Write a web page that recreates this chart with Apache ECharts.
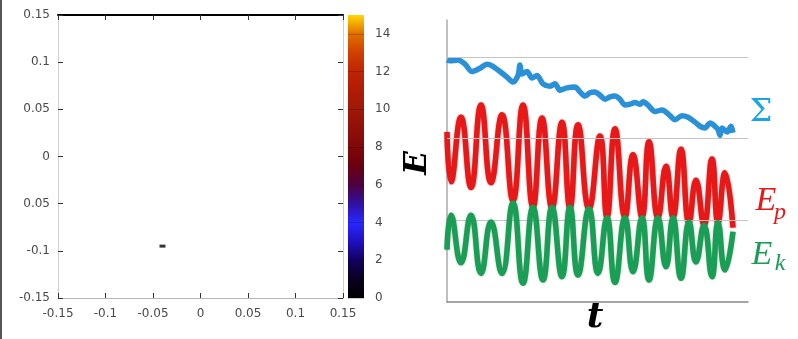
<!DOCTYPE html>
<html><head><meta charset="utf-8">
<script src="https://cdn.jsdelivr.net/npm/echarts/dist/echarts.min.js"></script>
<style>html,body{margin:0;padding:0;background:#fff}#c{width:798px;height:339px}</style>
</head><body><div id="c"></div>
<script>
// ---- left panel data ----
const xTicks = [-0.15, -0.1, -0.05, 0, 0.05, 0.1, 0.15];
const xTickLabels = ['-0.15', '-0.1', '-0.05', '0', '0.05', '0.1', '0.15'];
const yTicks = [-0.15, -0.1, -0.05, 0, 0.05, 0.1, 0.15];
const yTickLabels = ['-0.15', '-0.1', '0.05', '0', '0.05', '0.1', '0.15'];
const pointX = [-0.04];
const pointY = [-0.095];
const pointE = [0];
const colorbarMax = [15];
const colorbarTicks = [0, 2, 4, 6, 8, 10, 12, 14];
const paletteColors = ['#000000','#0a0020','#140060','#2010c0','#2828ff','#3010a0','#500040','#6a0010','#800808','#901008','#a01808','#b01c06','#c02404','#d04000','#e07000','#ffd800'];

// ---- right panel data ----
const sigmaT = [0,3,11,18,25,33,40,45,53,61,66,71,73,75,80,85,90,96,103,108,113,120,128,133,138,143,148,153,158,163,168,173,178,183,188,193,196,201,208,215,223,228,235,241,248,253,258,263,268,271,273,275,280,284,286];
const sigmaE = [2.96,2.95,2.96,2.91,2.82,2.86,2.91,2.89,2.82,2.74,2.69,2.77,2.90,2.79,2.82,2.74,2.77,2.67,2.64,2.67,2.59,2.62,2.63,2.57,2.52,2.56,2.57,2.53,2.48,2.51,2.52,2.48,2.41,2.42,2.44,2.42,2.45,2.41,2.33,2.35,2.28,2.23,2.28,2.26,2.20,2.15,2.13,2.19,2.15,2.11,2.04,2.13,2.08,2.15,2.07];
const epT = [0,4,14,24,34,44,55,66,76,86,95,105,115,123,131,142,153,160,168,178,186,195,202,211,219,226,234,242,249,257,265,271,278,286];
const epE = [2.08,1.47,2.26,1.40,2.41,1.46,2.29,1.24,2.41,1.16,2.25,1.15,2.20,1.15,2.17,1.14,2.03,1.04,2.12,1.04,1.80,1.04,1.96,1.03,1.66,1.04,1.87,0.97,1.49,0.94,1.75,0.97,1.58,0.91];
const ekT = [0,4,14,24,34,44,55,66,76,86,96,105,115,123,131,142,151,160,168,178,186,195,202,211,219,226,234,242,249,257,265,271,278,286];
const ekE = [0.64,1.06,0.48,1.06,0.35,0.98,0.35,1.21,0.23,1.16,0.27,1.16,0.31,1.16,0.33,1.14,0.35,1.03,0.24,1.03,0.37,1.03,0.27,1.03,0.43,1.03,0.29,0.98,0.49,0.94,0.31,0.97,0.39,0.86];
const gridLevels = [1, 2, 3];

const zip = (a, b) => a.map((v, i) => [v, b[i]]);
const lbl = (ticks, labels) => v => { const i = ticks.findIndex(t => Math.abs(t - v) < 1e-9); return i >= 0 ? labels[i] : ''; };

const chart = echarts.init(document.getElementById('c'), null, {renderer: 'canvas'});
const tickFont = {color: '#4a4a4a', fontSize: 12, fontFamily: 'DejaVu Sans'};

const stops = paletteColors.map((c, i) => ({offset: i / (paletteColors.length - 1), color: c}));

chart.setOption({
  animation: false,
  backgroundColor: '#fff',
  grid: [
    {left: 58, top: 15, width: 285, height: 283},
    {left: 348, top: 15, width: 16, height: 283},
    {left: 447, top: 20, width: 301, height: 282}
  ],
  xAxis: [
    {gridIndex: 0, type: 'value', min: -0.15, max: 0.15, interval: 0.05, position: 'bottom',
     axisLine: {onZero: false, lineStyle: {color: '#b8b8b8'}}, axisTick: {inside: true, length: 5, lineStyle: {color: '#333'}},
     axisLabel: Object.assign({margin: 10, formatter: lbl(xTicks, xTickLabels)}, tickFont), splitLine: {show: false}},
    {gridIndex: 0, type: 'value', min: -0.15, max: 0.15, interval: 0.05, position: 'top',
     axisLine: {onZero: false, lineStyle: {color: '#000', width: 2}}, axisTick: {inside: true, length: 5, lineStyle: {color: '#333'}},
     axisLabel: {show: false}, splitLine: {show: false}},
    {gridIndex: 1, type: 'category', data: ['c'], show: false},
    {gridIndex: 2, type: 'value', min: 0, max: 301, axisLine: {onZero: false, lineStyle: {color: '#888', width: 1.5}},
     axisTick: {show: false}, axisLabel: {show: false}, splitLine: {show: false}}
  ],
  yAxis: [
    {gridIndex: 0, type: 'value', min: -0.15, max: 0.15, interval: 0.05, position: 'left',
     axisLine: {show: true, onZero: false, lineStyle: {color: '#cfcfcf'}}, axisTick: {show: true, inside: true, length: 5, lineStyle: {color: '#333'}},
     axisLabel: Object.assign({margin: 8, formatter: lbl(yTicks, yTickLabels)}, tickFont), splitLine: {show: false}},
    {gridIndex: 0, type: 'value', min: -0.15, max: 0.15, interval: 0.05, position: 'right',
     axisLine: {show: true, onZero: false, lineStyle: {color: '#cfcfcf'}}, axisTick: {show: true, inside: true, length: 5, lineStyle: {color: '#333'}},
     axisLabel: {show: false}, splitLine: {show: false}},
    {gridIndex: 1, type: 'value', min: 0, max: colorbarMax[0], interval: 2, position: 'right', z: 5,
     axisLine: {show: false}, axisTick: {show: true, inside: true, length: 16, lineStyle: {color: 'rgba(0,0,0,0.2)'}},
     axisLabel: Object.assign({margin: 11, showMaxLabel: false, formatter: v => colorbarTicks.includes(v) ? String(v) : ''}, tickFont),
     splitLine: {show: false}},
    {gridIndex: 2, type: 'value', min: 0, max: 3.45, axisLine: {show: true, onZero: false, lineStyle: {color: '#aaa', width: 1.5}},
     axisTick: {show: false}, axisLabel: {show: false}, splitLine: {show: false}}
  ],
  series: [
    {type: 'scatter', xAxisIndex: 0, yAxisIndex: 0, symbol: 'rect', symbolSize: [6, 3],
     data: pointX.map((x, i) => [x, pointY[i], pointE[i]]),
     itemStyle: {color: p => paletteColors[Math.round(p.value[2])]}},
    {type: 'bar', xAxisIndex: 2, yAxisIndex: 2, barWidth: '100%', data: colorbarMax,
     itemStyle: {color: {type: 'linear', x: 0, y: 1, x2: 0, y2: 0, colorStops: stops}}},
    {type: 'line', xAxisIndex: 3, yAxisIndex: 3, data: zip(sigmaT, sigmaE), showSymbol: false, smooth: 0.3,
     lineStyle: {color: '#2a90d8', width: 5.5},
     markLine: {silent: true, symbol: 'none', label: {show: false},
       lineStyle: {color: '#c4c4c8', width: 1.2, type: 'solid'},
       data: gridLevels.map(v => ({yAxis: v}))}, z: 3},
    {type: 'line', xAxisIndex: 3, yAxisIndex: 3, data: zip(epT, epE), showSymbol: false, smooth: 0.5,
     lineStyle: {color: '#e81818', width: 5.5, shadowColor: 'rgba(120,0,0,0.45)', shadowBlur: 2}, z: 4},
    {type: 'line', xAxisIndex: 3, yAxisIndex: 3, data: zip(ekT, ekE), showSymbol: false, smooth: 0.5,
     lineStyle: {color: '#1a9e55', width: 5.5, shadowColor: 'rgba(0,80,30,0.4)', shadowBlur: 2}, z: 5}
  ],
  graphic: [
    {type: 'rect', left: 0, top: 0, shape: {width: 2, height: 339}, style: {fill: '#555'}},
    {type: 'text', x: 418, y: 163, rotation: Math.PI / 2,
     style: {text: 'E', font: 'italic bold 31px "DejaVu Serif"', fill: '#000', align: 'center', verticalAlign: 'middle'}},
    {type: 'text', x: 595, y: 318,
     style: {text: 't', font: 'italic bold 36px "DejaVu Serif"', fill: '#000', align: 'center', verticalAlign: 'middle'}},
    {type: 'text', x: 761, y: 113,
     style: {text: 'Σ', font: '32px "DejaVu Serif"', fill: '#1aa6e6', align: 'center', verticalAlign: 'middle'}},
    {type: 'text', x: 766, y: 201,
     style: {text: 'E', font: 'italic 34px "Liberation Serif"', fill: '#e81818', align: 'center', verticalAlign: 'middle'}},
    {type: 'text', x: 780, y: 213,
     style: {text: 'p', font: 'italic 24px "Liberation Serif"', fill: '#e81818', align: 'center', verticalAlign: 'middle'}},
    {type: 'text', x: 762, y: 255,
     style: {text: 'E', font: 'italic 34px "Liberation Serif"', fill: '#1a9e55', align: 'center', verticalAlign: 'middle'}},
    {type: 'text', x: 780, y: 264,
     style: {text: 'k', font: 'italic 24px "Liberation Serif"', fill: '#1a9e55', align: 'center', verticalAlign: 'middle'}}
  ]
});
</script></body></html>
